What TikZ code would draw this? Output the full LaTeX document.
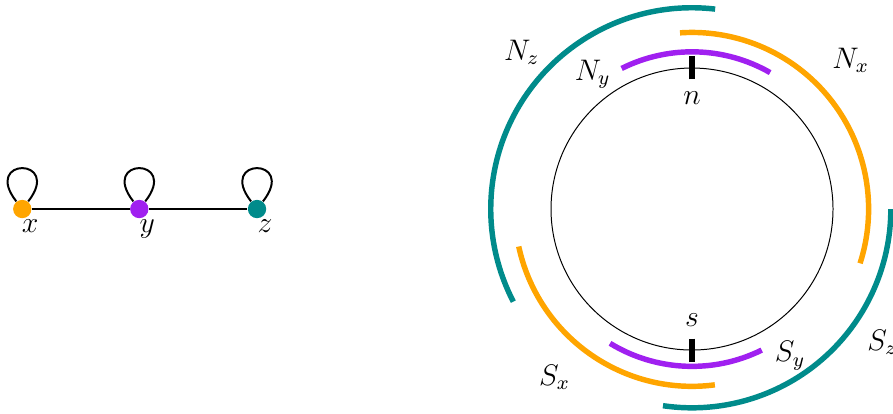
\documentclass[tikz,border=0pt]{standalone}
\usepackage{amsmath,amssymb}
\definecolor{orng}{RGB}{255,165,0}
\definecolor{prpl}{RGB}{160,32,240}
\definecolor{tl}{RGB}{0,139,139}

\begin{document}
\begin{tikzpicture}[x=1cm,y=1cm,font=\large,vert/.style={circle,inner sep=0pt,minimum size=0.26cm},arcline/.style={line width=2.2pt}]
\useasboundingbox (-9.816,-2.894) rectangle (2.851,2.965);
\begin{scope}
\foreach \v/\c/\p in {x/orng/-9.50,y/prpl/-7.84,z/tl/-6.17}{\node[vert,fill=\c,label={[xshift=3.2pt,yshift=3pt]below:$\v$}] (\v) at (\p,0) {};}
\draw[thick] (x)--(y)--(z);
\foreach \v in {x,y,z}{\draw[thick] (\v) to[out=128,in=52,min distance=0.8cm] (\v);}
\end{scope}
\begin{scope}
\draw (0,0) circle[radius=2];
\foreach \col/\r/\a/\b in {prpl/2.23/116.6/60.2,orng/2.505/93.9/-17.9,tl/2.855/83.4/207.4,tl/2.82/0/-98.4,orng/2.515/192.2/277.4,prpl/2.232/238.6/296.3}{\draw[arcline,\col] (\a:\r) arc[start angle=\a,end angle=\b,radius=\r];}
\draw[arcline] (90:1.84)--(90:2.17);\draw[arcline] (270:1.84)--(270:2.17);
\node (n) at (0,1.57) {$n$};\node (s) at (0,-1.57) {$s$};
\node (Ny) at (-1.41,1.91) {$N_y$};\node (Nx) at (2.25,2.11) {$N_x$};\node (Nz) at (-2.415,2.22) {$N_z$};
\node (Sx) at (-1.95,-2.39) {$S_x$};\node (Sy) at (1.39,-2.08) {$S_y$};\node (Sz) at (2.70,-1.89) {$S_z$};
\end{scope}
\end{tikzpicture}
\end{document}
